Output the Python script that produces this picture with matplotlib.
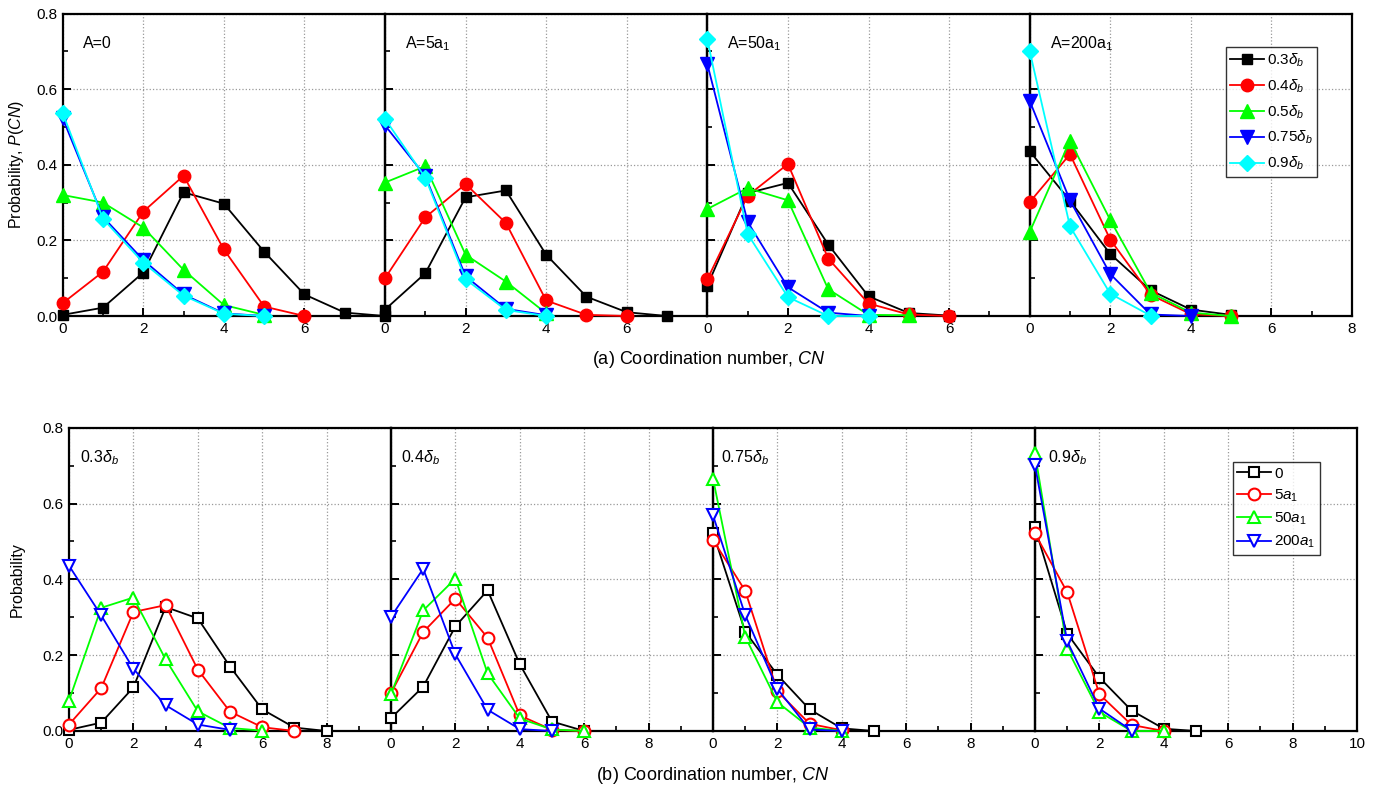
import numpy as np
import matplotlib
matplotlib.use("Agg")
import matplotlib.pyplot as plt
from matplotlib.ticker import MultipleLocator

plt.rcParams['font.family'] = ['Liberation Sans', 'DejaVu Sans']
plt.rcParams['mathtext.fontset'] = 'custom'
plt.rcParams['mathtext.rm'] = 'Liberation Sans'
plt.rcParams['mathtext.it'] = 'Liberation Sans:italic'
plt.rcParams['mathtext.bf'] = 'Liberation Sans:bold'

# ---- data: P(CN) for CN = 0,1,2,... ----
A0_d03 = [0.003, 0.022, 0.115, 0.327, 0.297, 0.170, 0.057, 0.009, 0.0]
A0_d04 = [0.034, 0.117, 0.276, 0.371, 0.176, 0.025, 0.0]
A0_d05 = [0.320, 0.300, 0.234, 0.122, 0.029, 0.003]
A0_d075 = [0.523, 0.262, 0.148, 0.057, 0.007, 0.0]
A0_d09 = [0.537, 0.257, 0.141, 0.054, 0.006, 0.0]

A5_d03 = [0.017, 0.113, 0.314, 0.332, 0.162, 0.051, 0.010, 0.0]
A5_d04 = [0.100, 0.261, 0.349, 0.246, 0.041, 0.003, 0.0]
A5_d05 = [0.353, 0.396, 0.162, 0.091, 0.007]
A5_d075 = [0.504, 0.370, 0.105, 0.019, 0.002]
A5_d09 = [0.521, 0.366, 0.097, 0.016, 0.0]

A50_d03 = [0.080, 0.325, 0.352, 0.189, 0.052, 0.008, 0.001]
A50_d04 = [0.097, 0.318, 0.402, 0.152, 0.033, 0.004, 0.0]
A50_d05 = [0.283, 0.338, 0.306, 0.071, 0.003, 0.002]
A50_d075 = [0.666, 0.249, 0.076, 0.009, 0.0]
A50_d09 = [0.732, 0.217, 0.050, 0.0, 0.0]

A200_d03 = [0.436, 0.305, 0.164, 0.068, 0.017, 0.003]
A200_d04 = [0.301, 0.428, 0.202, 0.056, 0.005, 0.0]
A200_d05 = [0.222, 0.464, 0.254, 0.062, 0.009, 0.0]
A200_d075 = [0.569, 0.306, 0.111, 0.004, 0.0]
A200_d09 = [0.701, 0.237, 0.059, 0.001]

top_titles = ['A=0', 'A=5a$_1$', 'A=50a$_1$', 'A=200a$_1$']
top_groups = [
    [A0_d03, A0_d04, A0_d05, A0_d075, A0_d09],
    [A5_d03, A5_d04, A5_d05, A5_d075, A5_d09],
    [A50_d03, A50_d04, A50_d05, A50_d075, A50_d09],
    [A200_d03, A200_d04, A200_d05, A200_d075, A200_d09],
]
top_labels = [r'0.3$\delta_b$', r'0.4$\delta_b$', r'0.5$\delta_b$', r'0.75$\delta_b$', r'0.9$\delta_b$']
top_colors = ['#000000', '#FF0000', '#00FF00', '#0000FF', '#00FFFF']
top_markers = ['s', 'o', '^', 'v', 'D']
top_msizes = [7.5, 9, 9.5, 9.5, 8.5]

bot_titles = [r'0.3$\delta_b$', r'0.4$\delta_b$', r'0.75$\delta_b$', r'0.9$\delta_b$']
bot_groups = [
    [A0_d03, A5_d03, A50_d03, A200_d03],
    [A0_d04, A5_d04, A50_d04, A200_d04],
    [A0_d075, A5_d075, A50_d075, A200_d075],
    [A0_d09, A5_d09, A50_d09, A200_d09],
]
bot_labels = ['0', '5$a_1$', '50$a_1$', '200$a_1$']
bot_colors = ['#000000', '#FF0000', '#00FF00', '#0000FF']
bot_markers = ['s', 'o', '^', 'v']

W, H = 1379, 785
fig = plt.figure(figsize=(W / 100, H / 100), dpi=100)

FS = 11


def style_axis(ax, xmax, xticks, show_ylabels):
    ax.set_xlim(0, xmax)
    ax.set_ylim(0, 0.8)
    ax.set_xticks(xticks)
    ax.xaxis.set_minor_locator(MultipleLocator(1))
    ax.set_yticks([0.0, 0.2, 0.4, 0.6, 0.8])
    ax.yaxis.set_minor_locator(MultipleLocator(0.1))
    ax.tick_params(which='major', direction='in', length=6, width=1.4,
                   labelsize=FS, top=False, right=False, pad=4)
    ax.tick_params(which='minor', direction='in', length=3.5, width=1.2,
                   top=False, right=False)
    if show_ylabels:
        ax.set_yticklabels(['0.0', '0.2', '0.4', '0.6', '0.8'])
    else:
        ax.tick_params(axis='y', which='both', labelleft=False)
    for s in ax.spines.values():
        s.set_linewidth(1.6)
    ax.grid(True, which='major', linestyle=':', color='#999999', linewidth=0.9)
    ax.set_axisbelow(True)
    ax.patch.set_alpha(0)


def boxed_legend(ax, anchor, spacing):
    lg = ax.legend(loc='upper right', bbox_to_anchor=anchor,
                   borderaxespad=0, fontsize=FS, frameon=True,
                   fancybox=False, handlelength=2.2, borderpad=0.3,
                   labelspacing=spacing, handletextpad=0.2)
    lg.get_frame().set_edgecolor('black')
    lg.get_frame().set_linewidth(1.0)
    return lg


# ---- top panel ----
tl, tr = 62.7 / W, 1352 / W
tb, tt = 1 - 316 / H, 1 - 13.5 / H
tw = (tr - tl) / 4
top_axes = []
for i in range(4):
    ax = fig.add_axes([tl + i * tw, tb, tw, tt - tb])
    xt = [0, 2, 4, 6, 8] if i == 3 else [0, 2, 4, 6]
    style_axis(ax, 8, xt, i == 0)
    for j, vals in enumerate(top_groups[i]):
        x = np.arange(len(vals))
        ax.plot(x, vals, color=top_colors[j], marker=top_markers[j],
                markersize=top_msizes[j], linewidth=1.3, clip_on=False,
                label=top_labels[j], zorder=3 + j)
    ax.text(0.5, 0.72, top_titles[i], fontsize=FS + 0.5, ha='left', va='center')
    top_axes.append(ax)

boxed_legend(top_axes[3], (0.892, 0.889), 0.55)

# ---- bottom panel ----
bl, br = 69 / W, 1357 / W
bb, bt = 1 - 731 / H, 1 - 427.7 / H
bw = (br - bl) / 4
bot_axes = []
for i in range(4):
    ax = fig.add_axes([bl + i * bw, bb, bw, bt - bb])
    xt = [0, 2, 4, 6, 8, 10] if i == 3 else [0, 2, 4, 6, 8]
    style_axis(ax, 10, xt, i == 0)
    for j, vals in enumerate(bot_groups[i]):
        x = np.arange(len(vals))
        ax.plot(x, vals, color=bot_colors[j], marker=bot_markers[j],
                markersize=8.5 if j != 0 else 7, markerfacecolor='white',
                markeredgewidth=1.5, linewidth=1.3, clip_on=False,
                label=bot_labels[j], zorder=3 + j)
    tx = [0.35, 0.3, 0.25, 0.4][i]
    ax.text(tx, 0.72, bot_titles[i], fontsize=FS + 0.5, ha='left', va='center')
    bot_axes.append(ax)

boxed_legend(bot_axes[3], (0.885, 0.887), 0.45)

# ---- axis labels ----
fig.text(709 / W, 1 - 359 / H, '(a) Coordination number, $CN$',
         ha='center', va='center', fontsize=13)
fig.text(713 / W, 1 - 776 / H, '(b) Coordination number, $CN$',
         ha='center', va='center', fontsize=13)
fig.text(17 / W, (tb + tt) / 2, 'Probability, $P(CN)$', rotation=90,
         ha='center', va='center', fontsize=11.5)
fig.text(17 / W, (bb + bt) / 2, 'Probability', rotation=90,
         ha='center', va='center', fontsize=11.5)

fig.savefig('out.png', dpi=100)
